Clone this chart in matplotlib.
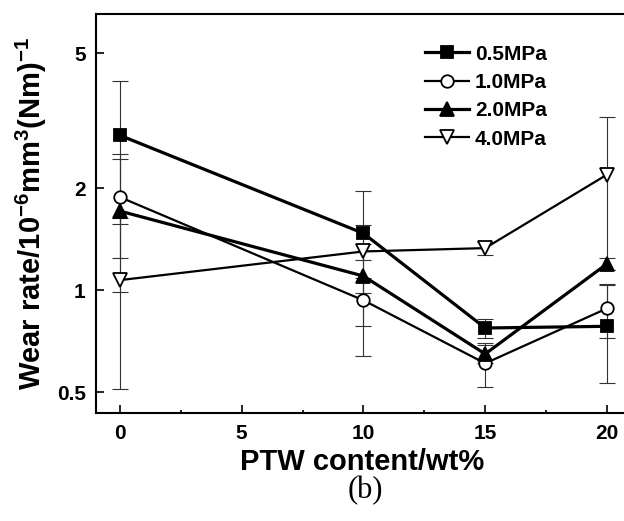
import numpy as np
import matplotlib
matplotlib.use('Agg')
import matplotlib.pyplot as plt
from matplotlib.ticker import FixedLocator, FixedFormatter, NullLocator, MultipleLocator

plt.rcParams['font.family'] = 'Liberation Sans'
plt.rcParams['font.weight'] = 'bold'
plt.rcParams['mathtext.fontset'] = 'custom'
plt.rcParams['mathtext.rm'] = 'Liberation Sans:bold'
plt.rcParams['mathtext.it'] = 'Liberation Sans:bold'
plt.rcParams['mathtext.bf'] = 'Liberation Sans:bold'

# PTW content (wt%)
ptw = [0, 10, 15, 20]

# wear rate, 10^-6 mm^3/(Nm), and error bars
wear_05 = [2.86, 1.47, 0.773, 0.782]
err_05 = [1.29, 0.49, 0.05, 0.25]
wear_10 = [1.88, 0.933, 0.608, 0.883]
err_10 = [0.64, 0.15, 0.09, 0.16]
wear_20 = [1.71, 1.10, 0.648, 1.195]
err_20 = [0.72, 0.46, 0.04, 0.05]
wear_40 = [1.07, 1.30, 1.33, 2.19]
err_40 = [0.56, 0.07, 0.06, 1.04]

labels = ['0.5MPa', '1.0MPa', '2.0MPa', '4.0MPa']
yticks = [0.5, 1, 2, 5]

fig = plt.figure(figsize=(6.24, 5.21), dpi=100)
ax = fig.add_axes([0.1532, 0.2073, 0.878, 0.7658])

series = [
    (wear_05, err_05, 's', 'black', 2.3, 8.5),
    (wear_10, err_10, 'o', 'white', 1.6, 9),
    (wear_20, err_20, '^', 'black', 2.3, 9.5),
    (wear_40, err_40, 'v', 'white', 1.6, 9.5),
]

for (y, e, m, fc, lw, ms), lab in zip(series, labels):
    ax.errorbar(ptw, y, yerr=e, fmt='none', ecolor='#333333', elinewidth=0.8,
                capsize=5.5, capthick=0.8, zorder=2)
    ax.plot(ptw, y, marker=m, color='black', markerfacecolor=fc,
            markeredgecolor='black', markeredgewidth=1.3, lw=lw, ms=ms,
            label=lab, zorder=3)

ax.set_yscale('log')
ax.set_ylim(0.434, 6.52)
ax.set_xlim(-1, 21.5)

ax.yaxis.set_major_locator(FixedLocator(yticks))
ax.yaxis.set_major_formatter(FixedFormatter(['0.5', '1', '2', '5']))
ax.yaxis.set_minor_locator(NullLocator())
ax.xaxis.set_major_locator(MultipleLocator(5))
ax.xaxis.set_minor_locator(MultipleLocator(2.5))

ax.tick_params(axis='both', which='major', direction='in', width=1.2,
               length=5.5, labelsize=15)
ax.tick_params(axis='x', which='minor', direction='in', width=1.2, length=2.5)
ax.tick_params(axis='x', which='major', pad=8)
ax.tick_params(axis='y', which='major', pad=7)
ax.tick_params(top=False, right=False)

for s in ax.spines.values():
    s.set_linewidth(1.5)

ax.set_xlabel('PTW content/wt%', fontsize=21, fontweight='bold')
ax.xaxis.set_label_coords(0.486, -0.088)
ax.set_ylabel('Wear rate/10$^{-6}$mm$^{3}$(Nm)$^{-1}$', fontsize=21,
              fontweight='bold')
ax.yaxis.set_label_coords(-0.085, 0.5)

ax.legend(loc='upper left', bbox_to_anchor=(0.681, 0.9145),
          bbox_transform=fig.transFigure, frameon=False, fontsize=15,
          borderpad=0, borderaxespad=0, handlelength=2.1, handletextpad=0.3,
          labelspacing=0.45)

fig.text(0.585, 0.058, '(b)', fontsize=22, fontweight='normal',
         family='Liberation Serif', ha='center', va='center')

fig.savefig('out.png', dpi=100)
